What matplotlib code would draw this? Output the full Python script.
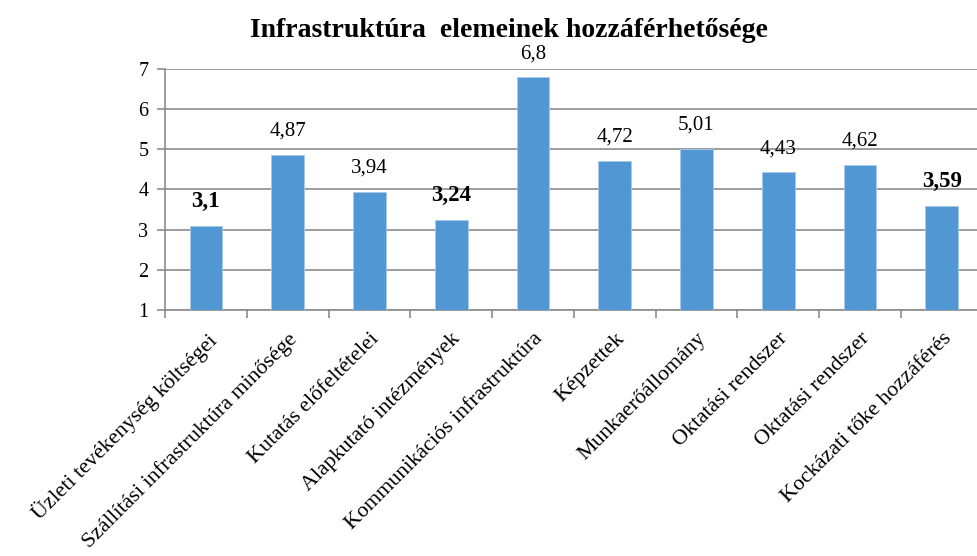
import matplotlib.pyplot as plt
import numpy as np

plt.rcParams['font.family'] = ['Liberation Serif', 'DejaVu Serif']

categories = ['Üzleti tevékenység költségei', 'Szállítási infrastruktúra minősége',
              'Kutatás előfeltételei', 'Alapkutató intézmények',
              'Kommunikációs infrastruktúra', 'Képzettek', 'Munkaerőállomány',
              'Oktatási rendszer', 'Oktatási rendszer', 'Kockázati tőke hozzáférés']
values = [3.1, 4.87, 3.94, 3.24, 6.8, 4.72, 5.01, 4.43, 4.62, 3.59]
labels = ['3,1', '4,87', '3,94', '3,24', '6,8', '4,72', '5,01', '4,43', '4,62', '3,59']
bold = [True, False, False, True, False, False, False, False, False, True]

fig = plt.figure(figsize=(9.78, 5.56), dpi=100)
ax = fig.add_axes([0.1687, 0.4424, 0.836, 0.4336])

x = np.arange(len(values))
bars = ax.bar(x, np.array(values) - 1, bottom=1, width=0.4, color='#5097D3',
              edgecolor='#a9cbe8', linewidth=0.6, zorder=3)

for xi, v, lab, b in zip(x, values, labels, bold):
    ax.annotate(lab, (xi, v), xytext=(0, 10), textcoords='offset points',
                ha='center', va='bottom',
                fontsize=16.5 if b else 15,
                fontweight='bold' if b else 'normal')

ax.set_ylim(1, 7)
ax.set_xlim(-0.5, len(values) - 0.5)
ax.set_yticks(range(1, 8))
ax.yaxis.grid(True, color='#8c8c8c', linewidth=1.2, zorder=0)
ax.tick_params(axis='y', length=6, color='#8c8c8c', width=1.2, labelsize=14.5, pad=6)

ax.set_xticks(np.arange(-0.5, len(values), 1.0), minor=False)
ax.set_xticklabels([])
ax.tick_params(axis='x', which='major', length=6, color='#8c8c8c', width=1.2, direction='out')
ax.set_xticks(x, minor=True)
ax.set_xticklabels(categories, minor=True, rotation=45, ha='right',
                   rotation_mode='anchor', fontsize=15.8)
ax.tick_params(axis='x', which='minor', length=0, pad=14)

for s in ['top', 'right']:
    ax.spines[s].set_visible(False)
for s in ['left', 'bottom']:
    ax.spines[s].set_color('#8c8c8c')
    ax.spines[s].set_linewidth(1.2)

fig.text(0.52, 0.945, 'Infrastruktúra  elemeinek hozzáférhetősége',
         ha='center', va='center', fontsize=20, fontweight='bold')

fig.savefig('out.png', dpi=100)
